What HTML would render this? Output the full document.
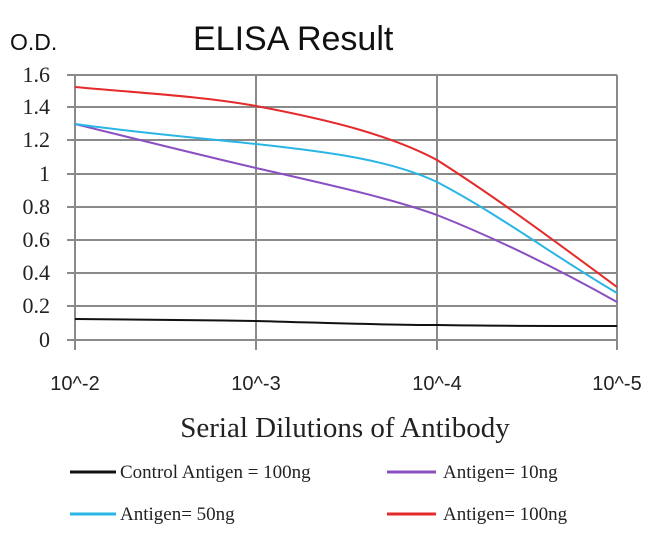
<!DOCTYPE html>
<html><head><style>
body{margin:0;background:#fff;}
</style></head><body>
<svg width="650" height="542" xmlns="http://www.w3.org/2000/svg">
<rect width="650" height="542" fill="#fff"/>
<text x="10" y="50" font-family="Liberation Sans, sans-serif" font-size="23" fill="#111">O.D.</text>
<text x="193" y="50" font-family="Liberation Sans, sans-serif" font-size="34" fill="#111">ELISA Result</text>
<g stroke="#8a8a8a" stroke-width="2">
<line x1="67" y1="75" x2="617" y2="75"/>
<line x1="67" y1="107" x2="617" y2="107"/>
<line x1="67" y1="140" x2="617" y2="140"/>
<line x1="67" y1="174" x2="617" y2="174"/>
<line x1="67" y1="207" x2="617" y2="207"/>
<line x1="67" y1="240" x2="617" y2="240"/>
<line x1="67" y1="273" x2="617" y2="273"/>
<line x1="67" y1="306" x2="617" y2="306"/>
<line x1="67" y1="340" x2="617" y2="340"/>
<line x1="75" y1="75" x2="75" y2="350"/>
<line x1="256" y1="75" x2="256" y2="350"/>
<line x1="437" y1="75" x2="437" y2="350"/>
<line x1="617" y1="75" x2="617" y2="350"/>
</g>
<g font-family="Liberation Serif, serif" font-size="22" fill="#222" text-anchor="end">
<text x="50" y="82">1.6</text><text x="50" y="114">1.4</text><text x="50" y="147">1.2</text>
<text x="50" y="181">1</text><text x="50" y="214">0.8</text><text x="50" y="247">0.6</text>
<text x="50" y="280">0.4</text><text x="50" y="313">0.2</text><text x="50" y="347">0</text>
</g>
<g font-family="Liberation Sans, sans-serif" font-size="20" fill="#222" text-anchor="middle">
<text x="75" y="390">10^-2</text><text x="256" y="390">10^-3</text><text x="437" y="390">10^-4</text><text x="617" y="390">10^-5</text>
</g>
<g fill="none" stroke-width="2">
<path d="M75,319 C150,320 200,320 256,321 C330,323 380,325 437,325 C500,326 560,326 617,326" stroke="#111"/>
<path d="M75,124 C140,140 200,155 256,168 C330,185 390,198 437,215 C500,240 560,270 617,302" stroke="#8a4fc0"/>
<path d="M75,124 C140,133 200,138 256,144 C330,152 390,160 437,182 C500,215 560,260 617,293" stroke="#29b5e5"/>
<path d="M75,87 C140,93 200,96 256,106 C330,120 390,135 437,160 C500,200 560,245 617,287" stroke="#e42a2a"/>
</g>
<text x="345" y="437" font-family="Liberation Serif, serif" font-size="29" fill="#222" text-anchor="middle">Serial Dilutions of Antibody</text>
<g stroke-width="3">
<line x1="70" y1="472" x2="116" y2="472" stroke="#111"/>
<line x1="387" y1="472" x2="436" y2="472" stroke="#8a4fc0"/>
<line x1="70" y1="514" x2="116" y2="514" stroke="#29b5e5"/>
<line x1="387" y1="514" x2="436" y2="514" stroke="#e42a2a"/>
</g>
<g font-family="Liberation Serif, serif" font-size="19" fill="#222">
<text x="120" y="478">Control Antigen = 100ng</text>
<text x="443" y="478">Antigen= 10ng</text>
<text x="120" y="520">Antigen= 50ng</text>
<text x="443" y="520">Antigen= 100ng</text>
</g>
</svg>
</body></html>
